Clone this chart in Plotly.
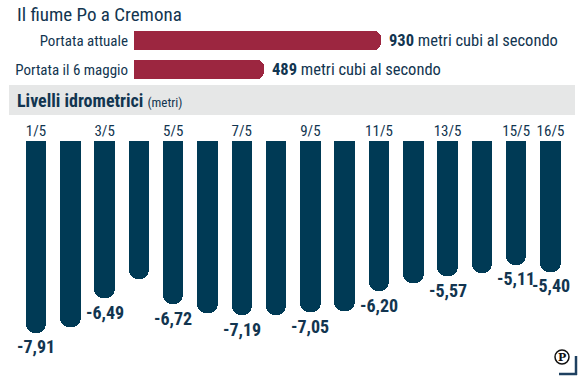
import plotly.graph_objects as go

W, H = 582, 377

# ---- data ----
flow_labels = ["Portata attuale", "Portata il 6 maggio"]
flow_values = [930, 489]
flow_unit = "metri cubi al secondo"

days = ["1/5", "2/5", "3/5", "4/5", "5/5", "6/5", "7/5", "8/5",
        "9/5", "10/5", "11/5", "12/5", "13/5", "14/5", "15/5", "16/5"]
levels = [-7.91, -7.65, -6.49, -5.68, -6.72, -7.08, -7.19, -7.17,
          -7.05, -6.99, -6.20, -5.86, -5.57, -5.43, -5.11, -5.40]
labeled_days = ["1/5", "3/5", "5/5", "7/5", "9/5", "11/5", "13/5", "15/5", "16/5"]
tick_days = ["1/5", "3/5", "5/5", "7/5", "9/5", "11/5", "13/5", "15/5", "16/5"]

FONT = "Liberation Sans Narrow, Roboto Condensed, Roboto, sans-serif"
NAVY = "#003a55"
TXT = "#123550"
RED = "#9c2640"
LOGO = "rgb(30,64,96)"

def px(x):
    return x / W

def py(y):
    return 1 - y / H

fig = go.Figure()

fig.add_trace(go.Bar(
    x=days, y=levels, marker=dict(color=NAVY, cornerradius=9, line=dict(width=0)),
    width=0.6, xaxis="x", yaxis="y", hoverinfo="skip", showlegend=False,
))
fig.add_trace(go.Bar(
    x=flow_values, y=flow_labels, orientation="h",
    marker=dict(color=RED, cornerradius=7, line=dict(width=0)),
    width=0.66, xaxis="x2", yaxis="y2", hoverinfo="skip", showlegend=False,
))

c0, pitch = 36.0, 34.3
zero_py, ppm = 140.7, 24.3
x_range = [(-c0) / pitch, (W - c0) / pitch]
y_range = [-(H - zero_py) / ppm, zero_py / ppm]

h0, k = 134.0, 0.2655
x2_range = [-h0 / k, (W - h0) / k]
r0, rp = 40.5, 29.0
y2_range = [(H - r0) / rp, -r0 / rp]

annotations = []
for d, v in zip(days, levels):
    if d in labeled_days:
        annotations.append(dict(
            x=d, y=v, xref="x", yref="y", yshift=-14, showarrow=False,
            text="<b>%s</b>" % ("%.2f" % v).replace(".", ","),
            font=dict(family=FONT, size=18, color=TXT),
            xanchor="center", yanchor="middle",
        ))

for lab, v in zip(flow_labels, flow_values):
    annotations.append(dict(
        x=v, y=lab, xref="x2", yref="y2", xshift=6, showarrow=False,
        text="<b>%d</b> %s" % (v, flow_unit),
        font=dict(family=FONT, size=16.5, color=TXT),
        xanchor="left", yanchor="middle",
    ))

annotations.append(dict(
    x=px(15), y=py(15), xref="paper", yref="paper", showarrow=False,
    text="Il fiume Po a Cremona", xanchor="left", yanchor="middle",
    font=dict(family=FONT, size=19, color=TXT),
))
annotations.append(dict(
    x=px(15), y=py(100), xref="paper", yref="paper", showarrow=False,
    text="<b>Livelli idrometrici</b> <span style='font-size:13px'>(metri)</span>",
    xanchor="left", yanchor="middle",
    font=dict(family=FONT, size=18, color=TXT),
))
annotations.append(dict(
    x=px(562), y=py(357), xref="paper", yref="paper", showarrow=False,
    text="<b>P</b>", xanchor="center", yanchor="middle",
    font=dict(family="DejaVu Serif, serif", size=11, color="#111111"),
))

shapes = [
    dict(type="rect", xref="paper", yref="paper", x0=px(9), x1=px(575),
         y0=py(115), y1=py(85), fillcolor="#e6e7e7", line=dict(width=0), layer="below"),
    dict(type="circle", xref="paper", yref="paper", x0=px(555), x1=px(569),
         y0=py(364), y1=py(350), line=dict(color="#111111", width=1.5)),
    dict(type="line", xref="paper", yref="paper", x0=px(576), x1=px(576),
         y0=py(356), y1=py(375), line=dict(color=LOGO, width=2.5)),
    dict(type="line", xref="paper", yref="paper", x0=px(559), x1=px(577),
         y0=py(374), y1=py(374), line=dict(color=LOGO, width=2.5)),
]

fig.update_layout(
    width=W, height=H, margin=dict(l=0, r=0, t=0, b=0, autoexpand=False),
    paper_bgcolor="white", plot_bgcolor="rgba(0,0,0,0)",
    showlegend=False, bargap=0,
    font=dict(family=FONT, color=TXT),
    xaxis=dict(domain=[0, 1], range=x_range, anchor="free", position=py(zero_py),
               side="top", tickmode="array", tickvals=tick_days, ticktext=tick_days,
               showgrid=False, zeroline=False, showline=False, ticks="",
               tickfont=dict(family=FONT, size=15, color=TXT), ticklabelstandoff=2,
               automargin=False, fixedrange=True),
    yaxis=dict(domain=[0, 1], range=y_range, visible=False, fixedrange=True, automargin=False),
    xaxis2=dict(domain=[0, 1], range=x2_range, anchor="y2", visible=False, fixedrange=True,
                automargin=False),
    yaxis2=dict(domain=[0, 1], range=y2_range, anchor="free", position=px(h0),
                type="category", showgrid=False, zeroline=False, showline=False,
                ticks="", tickfont=dict(family=FONT, size=15, color=TXT),
                ticklabelstandoff=6, automargin=False, fixedrange=True),
    annotations=annotations, shapes=shapes,
)

fig.write_html("out.html", config={"displayModeBar": False},
               post_script="document.body.style.margin='0';document.body.style.overflow='hidden';")
